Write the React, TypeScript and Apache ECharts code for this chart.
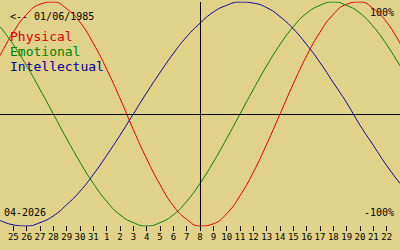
import React, { useEffect, useRef } from "react";
import * as echarts from "echarts";

// Days shown: index 0 = Mar 24, index 30 = Apr 23 (2026)
const dayLabels = ["25","26","27","28","29","30","31","1","2","3","4","5","6","7","8","9","10","11","12","13","14","15","16","17","18","19","20","21","22"];

const physical = [0.52,0.73,0.89,0.98,1.0,0.94,0.82,0.63,0.4,0.14,-0.14,-0.4,-0.63,-0.82,-0.94,-1.0,-0.98,-0.89,-0.73,-0.52,-0.27,0,0.27,0.52,0.73,0.89,0.98,1.0,0.94,0.82,0.63];
const emotional = [0.78,0.62,0.43,0.22,0,-0.22,-0.43,-0.62,-0.78,-0.9,-0.97,-1.0,-0.97,-0.9,-0.78,-0.62,-0.43,-0.22,0,0.22,0.43,0.62,0.78,0.9,0.97,1.0,0.97,0.9,0.78,0.62,0.43];
const intellectual = [-0.95,-0.99,-1.0,-0.97,-0.91,-0.81,-0.69,-0.54,-0.37,-0.19,0,0.19,0.37,0.54,0.69,0.81,0.91,0.97,1.0,0.99,0.95,0.87,0.76,0.62,0.46,0.28,0.1,-0.1,-0.28,-0.46,-0.62];

const todayIndex = 15;
const birthText = "<-- 01/06/1985";
const monthText = "04-2026";
const legendNames = ["Physical", "Emotional", "Intellectual"];
const colors = ["#e00000", "#008000", "#0000a0"];

const FONT = "DejaVu Sans Mono";

export default function App() {
  const ref = useRef<HTMLDivElement>(null);
  useEffect(() => {
    if (!ref.current) return;
    const chart = echarts.init(ref.current, null, { renderer: "svg" });
    const toPairs = (arr: number[]) => arr.map((v, i) => [i, v]);
    const seriesData = [physical, emotional, intellectual];
    const tickVals = dayLabels.map((_, i) => i + 1);
    chart.setOption({
      animation: false,
      backgroundColor: "#e0d288",
      grid: { left: 0, right: 0, top: 2, bottom: 24 },
      xAxis: {
        type: "value",
        min: 0,
        max: 30,
        interval: 1,
        axisLine: { show: false, onZero: false },
        splitLine: { show: false },
        axisTick: {
          show: true,
          length: 5,
          lineStyle: { color: "#000", width: 1 },
          customValues: tickVals,
        },
        axisLabel: {
          show: true,
          margin: 6,
          fontSize: 9,
          fontFamily: FONT,
          color: "#000",
          customValues: tickVals,
          formatter: (v: number) => dayLabels[Math.round(v) - 1] ?? "",
        },
      },
      yAxis: {
        type: "value",
        min: -1,
        max: 1,
        show: false,
      },
      series: [
        ...seriesData.map((d, si) => ({
          type: "line",
          name: legendNames[si],
          data: toPairs(d),
          smooth: true,
          showSymbol: false,
          lineStyle: { color: colors[si], width: 1 },
          z: 3,
        })),
        {
          type: "line",
          data: [],
          markLine: {
            silent: true,
            symbol: ["none", "none"],
            label: { show: false },
            lineStyle: { color: "#000", width: 1, type: "solid" },
            data: [{ xAxis: todayIndex }, { yAxis: 0 }],
          },
          z: 2,
        },
      ],
      graphic: [
        { type: "text", left: 10, top: 11, style: { text: birthText, font: `10px "${FONT}"`, fill: "#000" } },
        { type: "text", left: 10, top: 30, style: { text: legendNames[0], font: `13px "${FONT}"`, fill: colors[0] } },
        { type: "text", left: 10, top: 45, style: { text: legendNames[1], font: `13px "${FONT}"`, fill: colors[1] } },
        { type: "text", left: 10, top: 60, style: { text: legendNames[2], font: `13px "${FONT}"`, fill: colors[2] } },
        { type: "text", right: 6, top: 7, style: { text: "100%", font: `10px "${FONT}"`, fill: "#000" } },
        { type: "text", right: 6, top: 207, style: { text: "-100%", font: `10px "${FONT}"`, fill: "#000" } },
        { type: "text", left: 4, top: 207, style: { text: monthText, font: `10px "${FONT}"`, fill: "#000" } },
      ],
    });
    return () => chart.dispose();
  }, []);
  return <div ref={ref} style={{ position: "fixed", left: 0, top: 0, width: 400, height: 250 }} />;
}
